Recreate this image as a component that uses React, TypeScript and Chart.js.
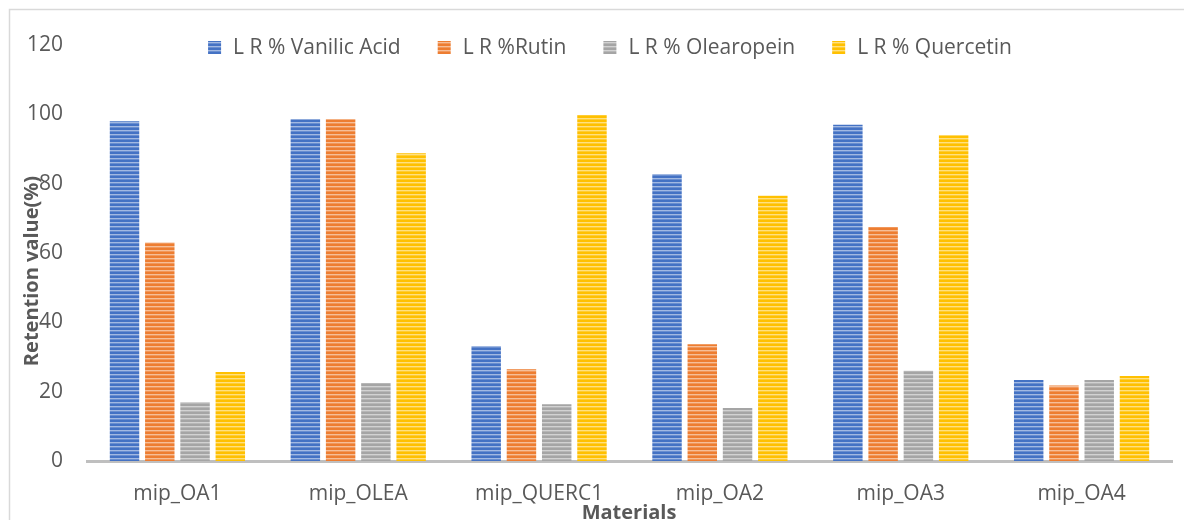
import React, { useEffect, useRef } from "react";
import { Chart, registerables } from "chart.js";

Chart.register(...registerables);

// Materials and retention values (%) for each analyte
const materials = ["mip_OA1", "mip_OLEA", "mip_QUERC1", "mip_OA2", "mip_OA3", "mip_OA4"];
const vanilicAcid = [98, 98.6, 33.2, 82.8, 97, 23.4];
const rutin = [63, 98.6, 26.5, 33.7, 67.5, 21.8];
const olearopein = [17, 22.5, 16.4, 15.3, 26, 23.4];
const quercetin = [25.7, 88.8, 99.8, 76.5, 94, 24.5];

const seriesLabels = ["L R % Vanilic Acid", "L R %Rutin", "L R % Olearopein", "L R % Quercetin"];
const seriesColors = ["#4472c4", "#ed7d31", "#a5a5a5", "#ffc000"];
const seriesValues = [vanilicAcid, rutin, olearopein, quercetin];

const yMin = 0;
const yMax = 120;
const yStep = 20;

const yTitle = "Retention value(%)";
const xTitle = "Materials";

const FONT = "'Open Sans', 'DejaVu Sans', sans-serif";
const TEXT = "#595959";

function tint(hex: string, t: number): string {
  const n = parseInt(hex.slice(1), 16);
  const r = (n >> 16) & 255;
  const g = (n >> 8) & 255;
  const b = n & 255;
  const m = (c: number) => Math.round(c + (255 - c) * t);
  return `rgb(${m(r)},${m(g)},${m(b)})`;
}

// Narrow horizontal stripe fill
function stripes(ctx: CanvasRenderingContext2D, color: string): CanvasPattern | string {
  const c = document.createElement("canvas");
  c.width = 4;
  c.height = 4;
  const g = c.getContext("2d");
  if (!g) return color;
  g.fillStyle = color;
  g.fillRect(0, 0, 4, 4);
  g.fillStyle = tint(color, 0.5);
  g.fillRect(0, 2, 4, 1);
  g.fillStyle = tint(color, 0.2);
  g.fillRect(0, 3, 4, 1);
  return ctx.createPattern(c, "repeat") || color;
}

const frameAndTitles = {
  id: "frameAndTitles",
  beforeDraw(chart: any) {
    const { ctx, width, height } = chart;
    ctx.save();
    ctx.fillStyle = "#ffffff";
    ctx.fillRect(0, 0, width, height);
    ctx.strokeStyle = "#d9d9d9";
    ctx.lineWidth = 1.5;
    ctx.beginPath();
    ctx.moveTo(9.5, height);
    ctx.lineTo(9.5, 9.5);
    ctx.lineTo(width, 9.5);
    ctx.stroke();
    ctx.restore();
  },
  afterDraw(chart: any) {
    const { ctx } = chart;
    ctx.save();
    ctx.fillStyle = TEXT;

    // axis titles
    ctx.font = `bold 20px ${FONT}`;
    ctx.textAlign = "center";
    ctx.textBaseline = "alphabetic";
    ctx.fillText(xTitle, 629, 519);

    ctx.save();
    ctx.translate(38, 271);
    ctx.rotate(-Math.PI / 2);
    ctx.textAlign = "center";
    ctx.textBaseline = "alphabetic";
    ctx.fillText(yTitle, 0, 0);
    ctx.restore();

    // legend
    ctx.font = `21px ${FONT}`;
    ctx.textBaseline = "middle";
    ctx.textAlign = "left";
    const box = 13;
    const gapText = 12;
    const gapItem = 37;
    const widths = seriesLabels.map((s) => ctx.measureText(s).width);
    const total = widths.reduce((a, w) => a + box + gapText + w, 0) + gapItem * (seriesLabels.length - 1);
    let x = 610 - total / 2;
    const cy = 47.5;
    chart.data.datasets.forEach((ds: any, i: number) => {
      ctx.fillStyle = ds.backgroundColor;
      ctx.fillRect(x, cy - box / 2, box, box);
      ctx.fillStyle = TEXT;
      ctx.fillText(seriesLabels[i], x + box + gapText, cy + 1);
      x += box + gapText + widths[i] + gapItem;
    });
    ctx.restore();
  },
};

export default function App() {
  const canvasRef = useRef<HTMLCanvasElement | null>(null);

  useEffect(() => {
    const canvas = canvasRef.current;
    if (!canvas) return;
    const ctx = canvas.getContext("2d");
    if (!ctx) return;

    const chart = new Chart(canvas, {
      type: "bar",
      data: {
        labels: materials,
        datasets: seriesValues.map((vals, i) => ({
          label: seriesLabels[i],
          data: vals,
          backgroundColor: stripes(ctx, seriesColors[i]) as any,
          borderWidth: 0,
          categoryPercentage: 0.78,
          barPercentage: 0.835,
        })),
      },
      options: {
        responsive: false,
        animation: false,
        layout: { padding: { top: 45, right: 12, left: 0, bottom: 0 } },
        plugins: {
          legend: { display: false },
          tooltip: { enabled: false },
          title: { display: false },
        },
        scales: {
          x: {
            grid: { display: false, drawTicks: false },
            border: { display: true, color: "#bfbfbf", width: 3 },
            ticks: {
              color: TEXT,
              font: { family: FONT, size: 21 },
              padding: 20,
              maxRotation: 0,
              autoSkip: false,
            },
            afterFit: (scale: any) => {
              scale.height = 59;
            },
          },
          y: {
            min: yMin,
            max: yMax,
            grid: { display: false, drawTicks: false },
            border: { display: false },
            ticks: {
              stepSize: yStep,
              color: TEXT,
              font: { family: FONT, size: 21 },
              padding: 24,
            },
            afterFit: (scale: any) => {
              scale.width = 87;
            },
          },
        },
      },
      plugins: [frameAndTitles],
    });

    return () => chart.destroy();
  }, []);

  return (
    <div style={{ position: "absolute", left: 0, top: 0, width: 1184, height: 520 }}>
      <canvas ref={canvasRef} width={1184} height={520} />
    </div>
  );
}
